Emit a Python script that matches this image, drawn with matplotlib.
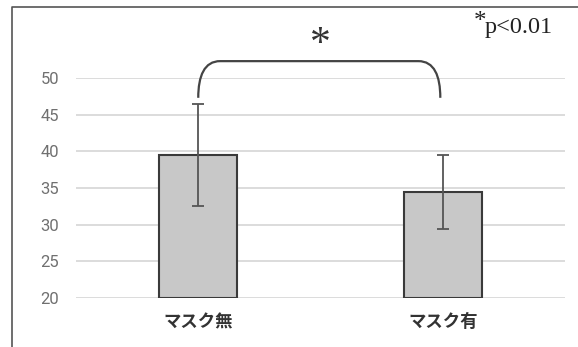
import matplotlib
matplotlib.use("Agg")
import matplotlib.pyplot as plt
from matplotlib.path import Path
from matplotlib.patches import PathPatch
from matplotlib.lines import Line2D

plt.rcParams['font.family'] = ['Noto Sans CJK JP', 'DejaVu Sans']

# data
groups = ['マスク無', 'マスク有']
means = [39.5, 34.4]
sds = [6.95, 5.05]
yticks = [20, 25, 30, 35, 40, 45, 50]

fig = plt.figure(figsize=(5.78, 3.47), dpi=100)
ax = fig.add_axes([0.1315, 0.1412, 0.846, 0.634])

x = list(range(len(groups)))
ax.bar(x, [m - 20 for m in means], bottom=20, width=0.32, color='#c8c8c8',
       edgecolor='#3a3a3a', linewidth=1.5, zorder=3)
ax.errorbar(x, means, yerr=sds, fmt='none', ecolor='#555555', elinewidth=1.3,
            capsize=4, capthick=1.3, zorder=4)

ax.set_xlim(-0.5, 1.5)
ax.set_ylim(20, 50)
ax.set_yticks(yticks)
ax.set_yticklabels([str(t) for t in yticks], family='Roboto', fontsize=12, color='#707070')
ax.set_xticks(x)
ax.set_xticklabels(groups, fontsize=12.5, fontweight='bold', color='#333333')
ax.tick_params(axis='both', length=0)
ax.tick_params(axis='y', pad=12)
ax.tick_params(axis='x', pad=11)
ax.grid(axis='y', color='#d9d9d9', linewidth=1.3, zorder=0)
for s in ax.spines.values():
    s.set_visible(False)

# significance bracket
y_lo, y_hi = 47.3, 52.3
xl, xr = 0.0, 0.99
verts = [(xl, y_lo), (xl, y_hi - 2.0), (xl + 0.025, y_hi), (xl + 0.09, y_hi),
         (xr - 0.09, y_hi), (xr - 0.025, y_hi), (xr, y_hi - 2.0), (xr, y_lo)]
codes = [Path.MOVETO, Path.CURVE4, Path.CURVE4, Path.CURVE4,
         Path.LINETO, Path.CURVE4, Path.CURVE4, Path.CURVE4]
ax.add_patch(PathPatch(Path(verts, codes), facecolor='none', edgecolor='#444444',
                       linewidth=1.6, clip_on=False, zorder=5))
ax.text(0.5, 54.6, '*', ha='center', va='center', fontsize=30,
        family='Liberation Serif', color='#333333', clip_on=False)
fig.text(0.841, 0.938, '*', ha='right', va='center', fontsize=18,
         family='Liberation Serif', color='#222222')
fig.text(0.839, 0.922, 'p<0.01', ha='left', va='center', fontsize=17.5,
         family='Liberation Serif', color='#222222')

# outer frame (left and top edges only)
fig.add_artist(Line2D([0.021, 0.021, 1.0], [0.0, 0.98, 0.98], color='#555555',
                      linewidth=1.2, transform=fig.transFigure))

fig.savefig('out.png', dpi=100, facecolor='white')
